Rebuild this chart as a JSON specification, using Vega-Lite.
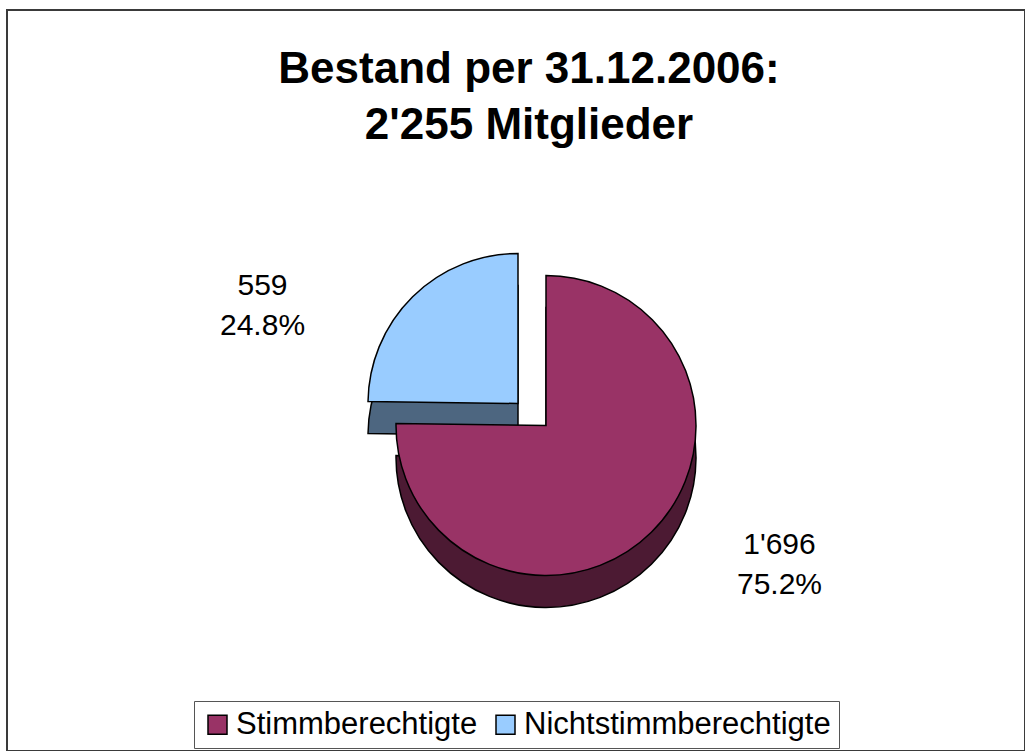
{
  "$schema": "https://vega.github.io/schema/vega-lite/v6.json",
  "width": 1018,
  "height": 741,
  "autosize": "none",
  "padding": {"left": 7, "top": 10, "right": 0, "bottom": 0},
  "background": "white",
  "view": {"stroke": "#3a3a3a", "strokeWidth": 2},
  "title": {
    "text": ["Bestand per 31.12.2006:", "2'255 Mitglieder"],
    "font": "Liberation Sans",
    "fontSize": 44,
    "fontWeight": "bold",
    "color": "#000000",
    "lineHeight": 56,
    "anchor": "middle",
    "baseline": "top",
    "offset": -138,
    "dx": 13
  },
  "data": {
    "values": [
      {"cat": "Stimmberechtigte", "value": 1696, "ord": 0, "label": "1'696\n75.2%"},
      {"cat": "Nichtstimmberechtigte", "value": 559, "ord": 1, "label": "559\n24.8%"}
    ]
  },
  "transform": [
    {"stack": "value", "groupby": [], "sort": [{"field": "ord", "order": "ascending"}], "as": ["v0", "v1"]}
  ],
  "layer": [
    {
      "transform": [{"filter": "datum.ord == 1"}],
      "mark": {"type": "arc", "radius": 150, "fill": "#4D6680", "stroke": "#000000", "strokeWidth": 1.5, "xOffset": 2, "yOffset": 55},
      "encoding": {
        "theta": {"field": "v0", "type": "quantitative", "scale": {"domain": [0, 2255]}},
        "theta2": {"field": "v1"}
      }
    },
    {
      "transform": [{"filter": "datum.ord == 1"}],
      "mark": {"type": "arc", "radius": 150, "stroke": "#000000", "strokeWidth": 1.5, "xOffset": 2, "yOffset": 23, "opacity": 1},
      "encoding": {
        "theta": {"field": "v0", "type": "quantitative", "scale": {"domain": [0, 2255]}},
        "theta2": {"field": "v1"},
        "color": {
          "field": "cat",
          "type": "nominal",
          "scale": {"domain": ["Stimmberechtigte", "Nichtstimmberechtigte"], "range": ["#993366", "#99CCFF"]},
          "legend": {
            "orient": "none",
            "legendX": 187,
            "legendY": 691,
            "direction": "horizontal",
            "columns": 2,
            "title": null,
            "symbolType": "square",
            "symbolSize": 361,
            "symbolStrokeColor": "#000000",
            "symbolStrokeWidth": 1.5,
            "symbolOpacity": 1,
            "labelFont": "Liberation Sans",
            "labelFontSize": 31,
            "labelColor": "#000000",
            "labelOffset": 3,
            "labelLimit": 0,
            "columnPadding": 12,
            "padding": 8,
            "strokeColor": "#555555"
          }
        }
      }
    },
    {
      "transform": [{"filter": "datum.ord == 0"}],
      "mark": {"type": "arc", "radius": 150, "fill": "#4C1A33", "stroke": "#000000", "strokeWidth": 1.5, "xOffset": 30, "yOffset": 77},
      "encoding": {
        "theta": {"field": "v0", "type": "quantitative", "scale": {"domain": [0, 2255]}},
        "theta2": {"field": "v1"}
      }
    },
    {
      "transform": [{"filter": "datum.ord == 0"}],
      "mark": {"type": "arc", "radius": 150, "stroke": "#000000", "strokeWidth": 1.5, "xOffset": 30, "yOffset": 45, "opacity": 1},
      "encoding": {
        "theta": {"field": "v0", "type": "quantitative", "scale": {"domain": [0, 2255]}},
        "theta2": {"field": "v1"},
        "color": {"field": "cat", "type": "nominal"}
      }
    },
    {
      "mark": {"type": "text", "radius": 200, "font": "Liberation Sans", "fontSize": 30, "lineHeight": 40, "lineBreak": "\n", "color": "#000000", "xOffset": 123, "yOffset": 22},
      "encoding": {
        "theta": {"field": "value", "type": "quantitative", "stack": true, "scale": {"domain": [0, 2255]}},
        "order": {"field": "ord", "type": "quantitative"},
        "text": {"field": "label"},
        "opacity": {"condition": {"test": "datum.ord == 0", "value": 1}, "value": 0}
      }
    },
    {
      "mark": {"type": "text", "radius": 200, "font": "Liberation Sans", "fontSize": 30, "lineHeight": 40, "lineBreak": "\n", "color": "#000000", "xOffset": -113, "yOffset": 48},
      "encoding": {
        "theta": {"field": "value", "type": "quantitative", "stack": true, "scale": {"domain": [0, 2255]}},
        "order": {"field": "ord", "type": "quantitative"},
        "text": {"field": "label"},
        "opacity": {"condition": {"test": "datum.ord == 1", "value": 1}, "value": 0}
      }
    }
  ]
}
